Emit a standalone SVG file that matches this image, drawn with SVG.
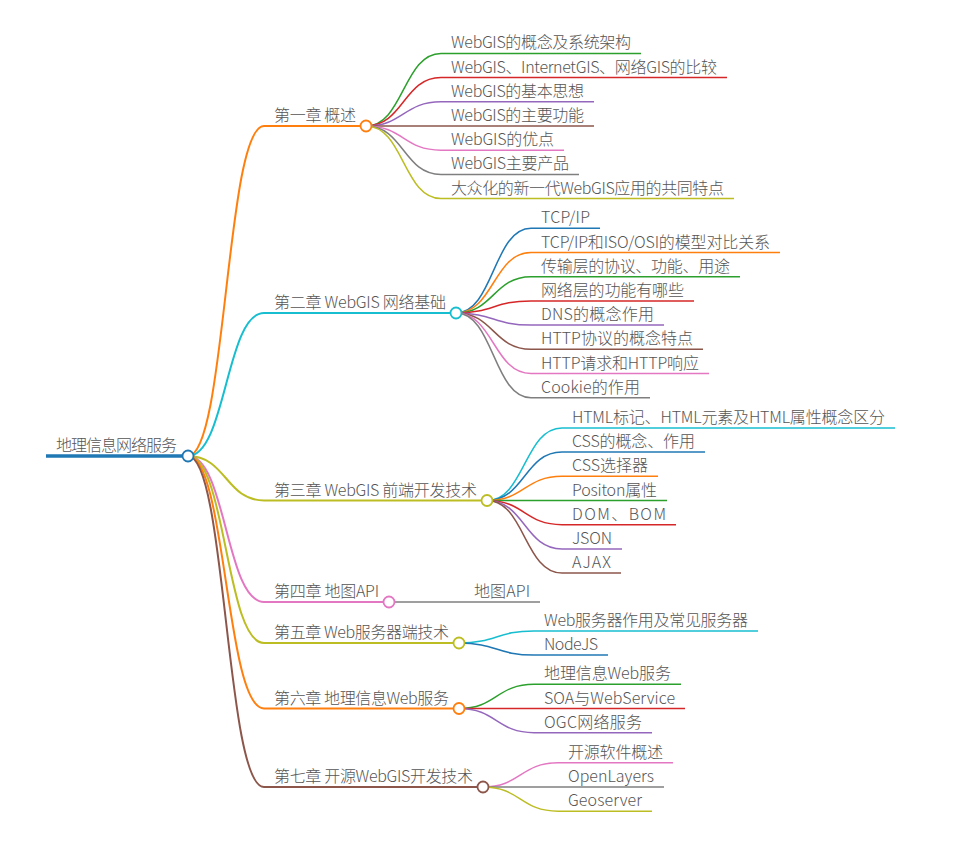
<svg xmlns="http://www.w3.org/2000/svg" width="977" height="864" viewBox="0 0 977 864">
<style>
text{font-family:"Noto Sans CJK SC","Noto Sans",sans-serif;font-size:16px;fill:#555;font-weight:300;}
.lk{fill:none;stroke-width:1.5;}
.lk2{fill:none;stroke-width:2;}
.ul{stroke-width:1.5;fill:none;}
.ul2{stroke-width:2;fill:none;}
.ul0{stroke-width:3.5;fill:none;}
.c{fill:#fff;stroke-width:1.8;}
</style>
<rect width="977" height="864" fill="#fff"/>
<g id="connectors">
<path class="lk2" stroke="#ff7f0e" d="M188,456 C226,456 226,126 264,126"/>
<path class="lk2" stroke="#17becf" d="M188,456 C226,456 226,313 264,313"/>
<path class="lk2" stroke="#bcbd22" d="M188,456 C226,456 226,500.5 264,500.5"/>
<path class="lk2" stroke="#e377c2" d="M188,456 C226,456 226,602 264,602"/>
<path class="lk2" stroke="#bcbd22" d="M188,456 C226,456 226,643 264,643"/>
<path class="lk2" stroke="#ff7f0e" d="M188,456 C226,456 226,708.5 264,708.5"/>
<path class="lk2" stroke="#8c564b" d="M188,456 C226,456 226,787 264,787"/>
<path class="lk" stroke="#2ca02c" d="M366,126 C403.5,126 403.5,53.4 441,53.4"/>
<path class="lk" stroke="#d62728" d="M366,126 C403.5,126 403.5,77.6 441,77.6"/>
<path class="lk" stroke="#9467bd" d="M366,126 C403.5,126 403.5,101.8 441,101.8"/>
<path class="lk" stroke="#8c564b" d="M366,126 C403.5,126 403.5,126 441,126"/>
<path class="lk" stroke="#e377c2" d="M366,126 C403.5,126 403.5,150.2 441,150.2"/>
<path class="lk" stroke="#7f7f7f" d="M366,126 C403.5,126 403.5,174.4 441,174.4"/>
<path class="lk" stroke="#bcbd22" d="M366,126 C403.5,126 403.5,198.6 441,198.6"/>
<path class="lk" stroke="#1f77b4" d="M456,313 C493.5,313 493.5,228.3 531,228.3"/>
<path class="lk" stroke="#ff7f0e" d="M456,313 C493.5,313 493.5,252.5 531,252.5"/>
<path class="lk" stroke="#2ca02c" d="M456,313 C493.5,313 493.5,276.7 531,276.7"/>
<path class="lk" stroke="#d62728" d="M456,313 C493.5,313 493.5,300.9 531,300.9"/>
<path class="lk" stroke="#9467bd" d="M456,313 C493.5,313 493.5,325.1 531,325.1"/>
<path class="lk" stroke="#8c564b" d="M456,313 C493.5,313 493.5,349.3 531,349.3"/>
<path class="lk" stroke="#e377c2" d="M456,313 C493.5,313 493.5,373.5 531,373.5"/>
<path class="lk" stroke="#7f7f7f" d="M456,313 C493.5,313 493.5,397.7 531,397.7"/>
<path class="lk" stroke="#17becf" d="M487,500.5 C524.5,500.5 524.5,427.9 562,427.9"/>
<path class="lk" stroke="#1f77b4" d="M487,500.5 C524.5,500.5 524.5,452.1 562,452.1"/>
<path class="lk" stroke="#ff7f0e" d="M487,500.5 C524.5,500.5 524.5,476.3 562,476.3"/>
<path class="lk" stroke="#2ca02c" d="M487,500.5 C524.5,500.5 524.5,500.5 562,500.5"/>
<path class="lk" stroke="#d62728" d="M487,500.5 C524.5,500.5 524.5,524.7 562,524.7"/>
<path class="lk" stroke="#9467bd" d="M487,500.5 C524.5,500.5 524.5,548.9 562,548.9"/>
<path class="lk" stroke="#8c564b" d="M487,500.5 C524.5,500.5 524.5,573.1 562,573.1"/>
<path class="lk" stroke="#7f7f7f" d="M389,602 L464,602"/>
<path class="lk" stroke="#17becf" d="M459,643 C496.5,643 496.5,630.9 534,630.9"/>
<path class="lk" stroke="#1f77b4" d="M459,643 C496.5,643 496.5,655.1 534,655.1"/>
<path class="lk" stroke="#2ca02c" d="M459,708.5 C496.5,708.5 496.5,684.3 534,684.3"/>
<path class="lk" stroke="#d62728" d="M459,708.5 C496.5,708.5 496.5,708.5 534,708.5"/>
<path class="lk" stroke="#9467bd" d="M459,708.5 C496.5,708.5 496.5,732.7 534,732.7"/>
<path class="lk" stroke="#e377c2" d="M483,787 C520.5,787 520.5,762.8 558,762.8"/>
<path class="lk" stroke="#7f7f7f" d="M483,787 C520.5,787 520.5,787 558,787"/>
<path class="lk" stroke="#bcbd22" d="M483,787 C520.5,787 520.5,811.2 558,811.2"/>
</g>
<g id="root">
<line class="ul0" stroke="#1f77b4" x1="46" y1="456" x2="188" y2="456"/>
<text x="56" y="451" textLength="121">地理信息网络服务</text>
<circle class="c" stroke="#1f77b4" cx="188" cy="456" r="5.5"/>
</g>
<g id="ch1">
<line class="ul2" stroke="#ff7f0e" x1="264" y1="126" x2="366" y2="126"/>
<text x="274" y="121" textLength="82">第一章 概述</text>
<circle class="c" stroke="#ff7f0e" cx="366" cy="126" r="5.5"/>
</g>
<g id="ch1-1"><line class="ul" stroke="#2ca02c" x1="441" y1="53.4" x2="641" y2="53.4"/><text x="451" y="48.4" textLength="180">WebGIS的概念及系统架构</text></g>
<g id="ch1-2"><line class="ul" stroke="#d62728" x1="441" y1="77.6" x2="727" y2="77.6"/><text x="451" y="72.6" textLength="266">WebGIS、InternetGIS、网络GIS的比较</text></g>
<g id="ch1-3"><line class="ul" stroke="#9467bd" x1="441" y1="101.8" x2="594" y2="101.8"/><text x="451" y="96.8" textLength="133">WebGIS的基本思想</text></g>
<g id="ch1-4"><line class="ul" stroke="#8c564b" x1="441" y1="126" x2="594" y2="126"/><text x="451" y="121" textLength="133">WebGIS的主要功能</text></g>
<g id="ch1-5"><line class="ul" stroke="#e377c2" x1="441" y1="150.2" x2="564" y2="150.2"/><text x="451" y="145.2" textLength="103">WebGIS的优点</text></g>
<g id="ch1-6"><line class="ul" stroke="#7f7f7f" x1="441" y1="174.4" x2="579" y2="174.4"/><text x="451" y="169.4" textLength="118">WebGIS主要产品</text></g>
<g id="ch1-7"><line class="ul" stroke="#bcbd22" x1="441" y1="198.6" x2="734" y2="198.6"/><text x="451" y="193.6" textLength="273">大众化的新一代WebGIS应用的共同特点</text></g>
<g id="ch2">
<line class="ul2" stroke="#17becf" x1="264" y1="313" x2="456" y2="313"/>
<text x="274" y="308" textLength="172">第二章 WebGIS 网络基础</text>
<circle class="c" stroke="#17becf" cx="456" cy="313" r="5.5"/>
</g>
<g id="ch2-1"><line class="ul" stroke="#1f77b4" x1="531" y1="228.3" x2="600" y2="228.3"/><text x="541" y="223.3" textLength="49">TCP/IP</text></g>
<g id="ch2-2"><line class="ul" stroke="#ff7f0e" x1="531" y1="252.5" x2="780" y2="252.5"/><text x="541" y="247.5" textLength="229">TCP/IP和ISO/OSI的模型对比关系</text></g>
<g id="ch2-3"><line class="ul" stroke="#2ca02c" x1="531" y1="276.7" x2="740" y2="276.7"/><text x="541" y="271.7" textLength="189">传输层的协议、功能、用途</text></g>
<g id="ch2-4"><line class="ul" stroke="#d62728" x1="531" y1="300.9" x2="694" y2="300.9"/><text x="541" y="295.9" textLength="143">网络层的功能有哪些</text></g>
<g id="ch2-5"><line class="ul" stroke="#9467bd" x1="531" y1="325.1" x2="664" y2="325.1"/><text x="541" y="320.1" textLength="113">DNS的概念作用</text></g>
<g id="ch2-6"><line class="ul" stroke="#8c564b" x1="531" y1="349.3" x2="703" y2="349.3"/><text x="541" y="344.3" textLength="152">HTTP协议的概念特点</text></g>
<g id="ch2-7"><line class="ul" stroke="#e377c2" x1="531" y1="373.5" x2="709" y2="373.5"/><text x="541" y="368.5" textLength="158">HTTP请求和HTTP响应</text></g>
<g id="ch2-8"><line class="ul" stroke="#7f7f7f" x1="531" y1="397.7" x2="650" y2="397.7"/><text x="541" y="392.7" textLength="99">Cookie的作用</text></g>
<g id="ch3">
<line class="ul2" stroke="#bcbd22" x1="264" y1="500.5" x2="487" y2="500.5"/>
<text x="274" y="495.5" textLength="203">第三章 WebGIS 前端开发技术</text>
<circle class="c" stroke="#bcbd22" cx="487" cy="500.5" r="5.5"/>
</g>
<g id="ch3-1"><line class="ul" stroke="#17becf" x1="562" y1="427.9" x2="895" y2="427.9"/><text x="572" y="422.9" textLength="313">HTML标记、HTML元素及HTML属性概念区分</text></g>
<g id="ch3-2"><line class="ul" stroke="#1f77b4" x1="562" y1="452.1" x2="705" y2="452.1"/><text x="572" y="447.1" textLength="123">CSS的概念、作用</text></g>
<g id="ch3-3"><line class="ul" stroke="#ff7f0e" x1="562" y1="476.3" x2="658" y2="476.3"/><text x="572" y="471.3" textLength="76">CSS选择器</text></g>
<g id="ch3-4"><line class="ul" stroke="#2ca02c" x1="562" y1="500.5" x2="667" y2="500.5"/><text x="572" y="495.5" textLength="85">Positon属性</text></g>
<g id="ch3-5"><line class="ul" stroke="#d62728" x1="562" y1="524.7" x2="676" y2="524.7"/><text x="572" y="519.7" textLength="94">DOM、BOM</text></g>
<g id="ch3-6"><line class="ul" stroke="#9467bd" x1="562" y1="548.9" x2="622" y2="548.9"/><text x="572" y="543.9" textLength="40">JSON</text></g>
<g id="ch3-7"><line class="ul" stroke="#8c564b" x1="562" y1="573.1" x2="621" y2="573.1"/><text x="572" y="568.1" textLength="39">AJAX</text></g>
<g id="ch4">
<line class="ul2" stroke="#e377c2" x1="264" y1="602" x2="389" y2="602"/>
<text x="274" y="597" textLength="105">第四章 地图API</text>
<circle class="c" stroke="#e377c2" cx="389" cy="602" r="5.5"/>
</g>
<g id="ch4-1"><line class="ul" stroke="#7f7f7f" x1="464" y1="602" x2="540" y2="602"/><text x="474" y="597" textLength="56">地图API</text></g>
<g id="ch5">
<line class="ul2" stroke="#bcbd22" x1="264" y1="643" x2="459" y2="643"/>
<text x="274" y="638" textLength="175">第五章 Web服务器端技术</text>
<circle class="c" stroke="#bcbd22" cx="459" cy="643" r="5.5"/>
</g>
<g id="ch5-1"><line class="ul" stroke="#17becf" x1="534" y1="630.9" x2="758" y2="630.9"/><text x="544" y="625.9" textLength="204">Web服务器作用及常见服务器</text></g>
<g id="ch5-2"><line class="ul" stroke="#1f77b4" x1="534" y1="655.1" x2="608" y2="655.1"/><text x="544" y="650.1" textLength="54">NodeJS</text></g>
<g id="ch6">
<line class="ul2" stroke="#ff7f0e" x1="264" y1="708.5" x2="459" y2="708.5"/>
<text x="274" y="703.5" textLength="175">第六章 地理信息Web服务</text>
<circle class="c" stroke="#ff7f0e" cx="459" cy="708.5" r="5.5"/>
</g>
<g id="ch6-1"><line class="ul" stroke="#2ca02c" x1="534" y1="684.3" x2="681" y2="684.3"/><text x="544" y="679.3" textLength="127">地理信息Web服务</text></g>
<g id="ch6-2"><line class="ul" stroke="#d62728" x1="534" y1="708.5" x2="685" y2="708.5"/><text x="544" y="703.5" textLength="131">SOA与WebService</text></g>
<g id="ch6-3"><line class="ul" stroke="#9467bd" x1="534" y1="732.7" x2="652" y2="732.7"/><text x="544" y="727.7" textLength="98">OGC网络服务</text></g>
<g id="ch7">
<line class="ul2" stroke="#8c564b" x1="264" y1="787" x2="483" y2="787"/>
<text x="274" y="782" textLength="199">第七章 开源WebGIS开发技术</text>
<circle class="c" stroke="#8c564b" cx="483" cy="787" r="5.5"/>
</g>
<g id="ch7-1"><line class="ul" stroke="#e377c2" x1="558" y1="762.8" x2="673" y2="762.8"/><text x="568" y="757.8" textLength="95">开源软件概述</text></g>
<g id="ch7-2"><line class="ul" stroke="#7f7f7f" x1="558" y1="787" x2="664" y2="787"/><text x="568" y="782" textLength="86">OpenLayers</text></g>
<g id="ch7-3"><line class="ul" stroke="#bcbd22" x1="558" y1="811.2" x2="652" y2="811.2"/><text x="568" y="806.2" textLength="74">Geoserver</text></g>
</svg>
